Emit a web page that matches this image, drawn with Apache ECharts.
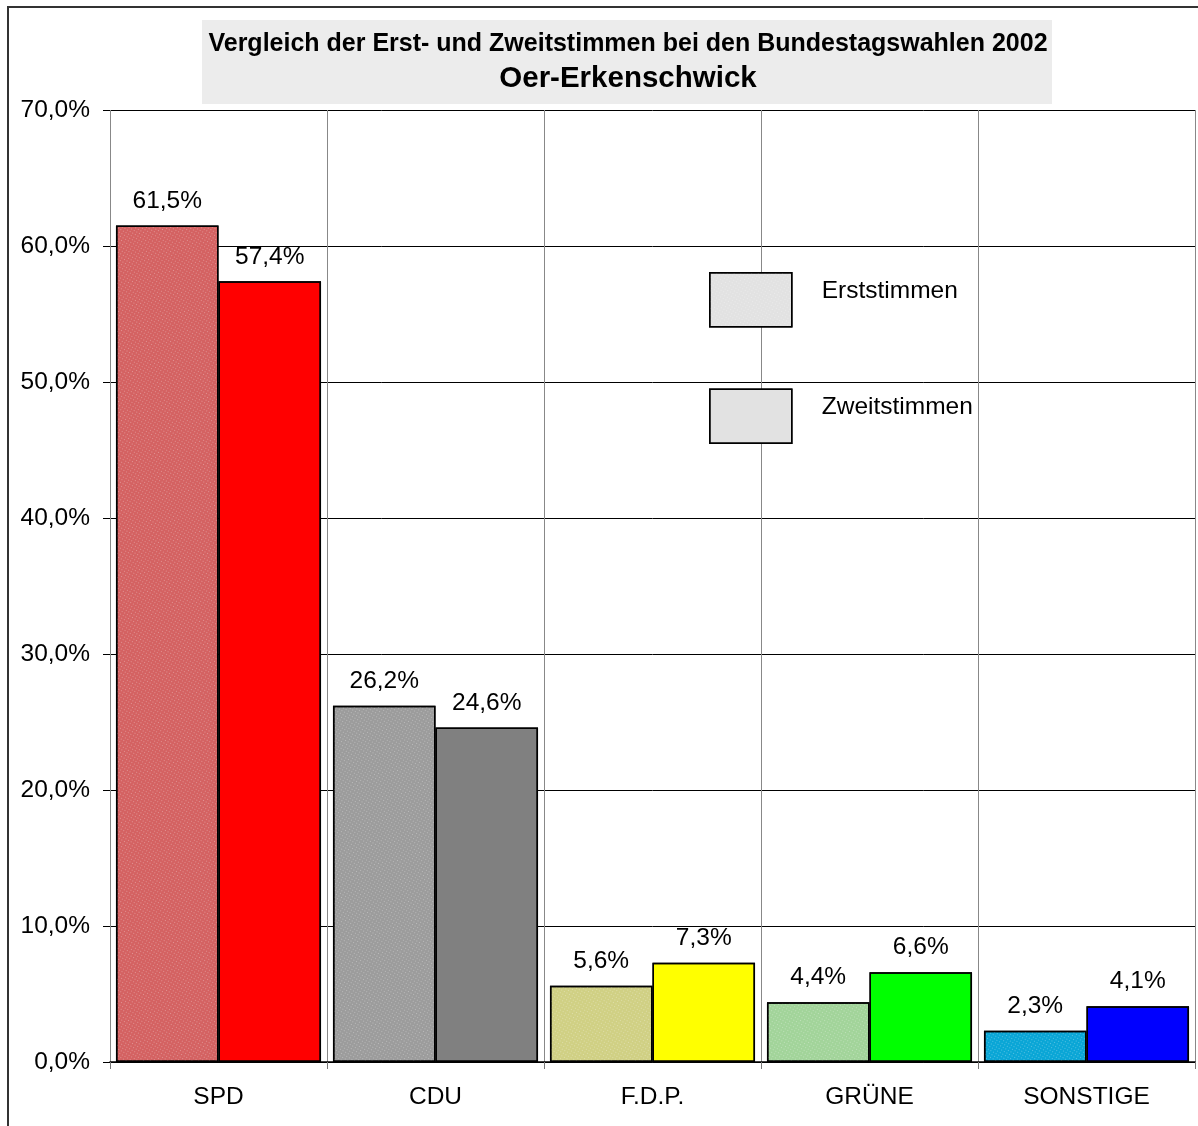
<!DOCTYPE html>
<html>
<head>
<meta charset="utf-8">
<script src="https://cdn.jsdelivr.net/npm/echarts@6/dist/echarts.min.js"></script>
<style>
  html, body { margin: 0; padding: 0; background: #fff; }
  #main { width: 1198px; height: 1126px; }
</style>
</head>
<body>
<div id="main"></div>
<script>
var categories = ['SPD', 'CDU', 'F.D.P.', 'GRÜNE', 'SONSTIGE'];
var erststimmen = [61.5, 26.2, 5.6, 4.4, 2.3];
var zweitstimmen = [57.4, 24.6, 7.3, 6.6, 4.1];
var erstColors = ['#d46262', '#9c9c9c', '#d0d084', '#a2d49a', '#0aa6d6'];
var zweitColors = ['#ff0000', '#808080', '#ffff00', '#00ff00', '#0000ff'];
var yTicks = [0, 10, 20, 30, 40, 50, 60, 70];

function pct(v) {
    return v.toFixed(1).replace('.', ',') + '%';
}

var dom = document.getElementById('main');
var myChart = echarts.init(dom);
var font = 'Liberation Sans, Arial, sans-serif';

var labelStyle = {
    show: true,
    position: 'top',
    distance: 12,
    color: '#000',
    fontFamily: font,
    fontSize: 24.5,
    formatter: function (p) { return pct(p.value); }
};

var option = {
    animation: false,
    aria: { enabled: true, decal: { show: true } },
    title: {
        text: '{a|Vergleich der Erst- und Zweitstimmen bei den Bundestagswahlen 2002}\n{b|Oer-Erkenschwick}',
        left: 623,
        top: 22,
        textAlign: 'center',
        textStyle: {
            rich: {
                a: { fontFamily: font, fontSize: 25, fontWeight: 'bold', color: '#000', lineHeight: 34, align: 'center' },
                b: { fontFamily: font, fontSize: 29.5, fontWeight: 'bold', color: '#000', lineHeight: 36, align: 'center' }
            }
        }
    },
    graphic: [
        { type: 'rect', z: -10, shape: { x: 8, y: 7, width: 1260, height: 1200 },
          style: { fill: 'none', stroke: '#333', lineWidth: 2 } },
        { type: 'rect', z: -5, shape: { x: 202, y: 20, width: 850, height: 84 },
          style: { fill: '#ececec' } }
    ],
    legend: {
        orient: 'vertical',
        left: 704,
        top: 267,
        itemWidth: 82,
        itemHeight: 54,
        itemGap: 61,
        icon: 'rect',
        data: ['Erststimmen', 'Zweitstimmen'],
        itemStyle: { color: '#e2e2e2', borderColor: '#000', borderWidth: 1.5 },
        formatter: '{t|{name}}',
        textStyle: {
            fontFamily: font, fontSize: 24.5, color: '#000',
            rich: { t: { fontFamily: font, fontSize: 24.5, color: '#000', padding: [0, 0, 18, 25] } }
        }
    },
    grid: { left: 110, right: 3, top: 110, bottom: 64 },
    xAxis: {
        type: 'category',
        data: categories,
        axisLine: { lineStyle: { color: '#000', width: 1.5 } },
        axisTick: { show: true, length: 7, lineStyle: { color: '#777' } },
        axisLabel: { color: '#000', fontFamily: font, fontSize: 24.5, margin: 23 },
        splitLine: { show: true, lineStyle: { color: '#888', width: 1 } }
    },
    yAxis: {
        type: 'value',
        min: 0,
        max: 70,
        interval: 10,
        axisLine: { show: false },
        axisTick: { show: true, length: 7, lineStyle: { color: '#000' } },
        axisLabel: {
            color: '#000', fontFamily: font, fontSize: 24.5, margin: 20,
            formatter: function (v) { return yTicks.indexOf(v) >= 0 ? pct(v) : ''; }
        },
        splitLine: { show: true, lineStyle: { color: '#000', width: 1 } }
    },
    series: [
        {
            name: 'Erststimmen',
            type: 'bar',
            barGap: '0%',
            barCategoryGap: '5.5%',
            itemStyle: {
                color: '#dedede',
                borderColor: '#000',
                borderWidth: 1.5,
                decal: {
                    symbol: 'rect',
                    symbolSize: 1,
                    dashArrayX: [1, 2],
                    dashArrayY: [1, 2],
                    color: 'rgba(255,255,255,0.3)'
                }
            },
            label: labelStyle,
            data: erststimmen.map(function (v, i) {
                return { value: v, itemStyle: { color: erstColors[i] } };
            })
        },
        {
            name: 'Zweitstimmen',
            type: 'bar',
            barGap: '0%',
            barCategoryGap: '5.5%',
            itemStyle: {
                color: '#e0e0e0',
                borderColor: '#000',
                borderWidth: 1.5,
                decal: { symbol: 'none' }
            },
            label: labelStyle,
            data: zweitstimmen.map(function (v, i) {
                return { value: v, itemStyle: { color: zweitColors[i] } };
            })
        }
    ]
};

if (option && typeof option === "object") {
    myChart.setOption(option, true);
}
</script>
</body>
</html>
